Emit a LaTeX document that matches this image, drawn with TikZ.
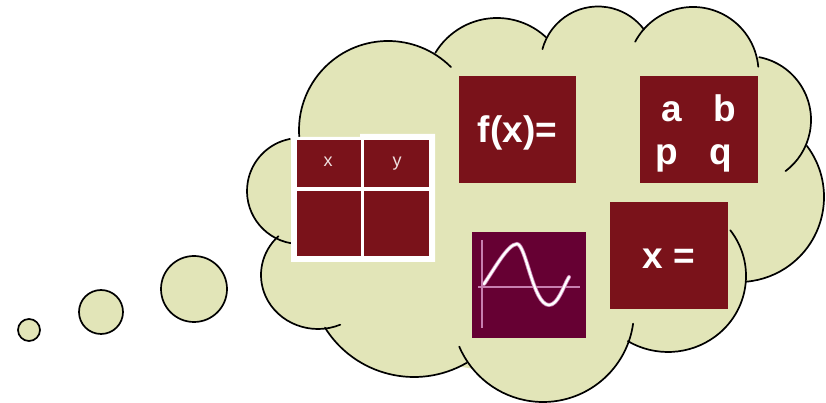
\documentclass[tikz,border=0pt]{standalone}
\usepackage{fontspec}
\setmainfont{Liberation Sans}
\definecolor{cloudfill}{HTML}{E2E5B8}
\definecolor{boxred}{HTML}{7A121A}
\definecolor{graphbg}{HTML}{660033}
\definecolor{axispink}{HTML}{C77FB0}
\definecolor{celltint}{HTML}{F0E0E0}
\tikzset{
  bubble/.style={draw=black,line width=1.7pt,fill=cloudfill},
  lobeline/.style={draw=black,line width=1.7pt,line cap=round},
  redbox/.style={fill=boxred,inner sep=0pt,outer sep=0pt},
  bigtext/.style={text=white,inner sep=0pt,anchor=base,font=\bfseries\fontsize{37}{40}\selectfont},
  celltext/.style={text=celltint,inner sep=0pt,anchor=base,font=\fontsize{18}{20}\selectfont}
}
% cx, cy (pixels from the top), rx, ry, start angle, end angle
\newcommand\lobefill[4]{\fill[cloudfill] (#1,{403-#2}) ellipse [x radius=#3pt,y radius=#4pt];}
\newcommand\lobearc[6]{\draw[lobeline] (#1,{403-#2}) ++(#5:#3pt and #4pt) arc[start angle=#5,end angle=#6,x radius=#3pt,y radius=#4pt];}
\newcommand\boxat[5]{\node[redbox,#5,minimum width=#3pt,minimum height=#4pt] at ({#1+#3/2},{403-#2-#4/2}) {};}
\begin{document}
\begin{tikzpicture}[x=1pt,y=1pt]
\useasboundingbox (0,0) rectangle (826,403);
% thought bubbles
\node[bubble,circle,inner sep=0pt,minimum size=22pt] (b1) at (29,{403-330}) {};
\node[bubble,circle,inner sep=0pt,minimum size=44pt] (b2) at (101,{403-312}) {};
\node[bubble,circle,inner sep=0pt,minimum size=66pt] (b3) at (194,{403-289}) {};
% cloud body
\fill[cloudfill] (340,{403-100}) -- (470,{403-60}) -- (600,{403-50}) -- (700,{403-60}) -- (770,{403-150}) -- (760,{403-250}) -- (640,{403-330}) -- (540,{403-380}) -- (420,{403-360}) -- (320,{403-300}) -- (290,{403-200}) -- cycle;
\lobefill{388}{130}{89}{89}
\lobefill{497}{90}{72}{72}
\lobefill{598}{64}{57.5}{57.5}
\lobefill{693}{72.5}{65.5}{65.5}
\lobefill{747}{120}{64}{64}
\lobefill{739}{197}{85}{85}
\lobefill{668}{276}{78}{76}
\lobefill{543}{311}{91}{91}
\lobefill{414}{272}{105}{105}
\lobefill{318}{275}{57}{54}
\lobefill{300}{191}{53}{53}
% cloud outline
\lobearc{388}{130}{89}{89}{45}{186}
\lobearc{497}{90}{72}{72}{149}{47}
\lobearc{598}{64}{57.5}{57.5}{165}{37}
\lobearc{693}{72.5}{65.5}{65.5}{152}{5}
\lobearc{747}{120}{64}{64}{79}{-53}
\lobearc{739}{197}{85}{85}{37}{-85}
\lobearc{668}{276}{78}{76}{37}{-121}
\lobearc{543}{311}{91}{91}{-8}{-157}
\lobearc{414}{272}{105}{105}{-60}{-148}
\lobearc{318}{275}{57}{54}{-67}{-226}
\lobearc{300}{191}{53}{53}{-100}{-259}
% table
\fill[white] (291,{403-137}) -- (360,{403-137}) -- (360,{403-134}) -- (435,{403-134}) -- (435,{403-262}) -- (291,{403-262}) -- cycle;
\boxat{297}{140}{64}{47}{name=c11}
\boxat{364}{140}{65}{47}{name=c12}
\boxat{297}{191}{64}{65}{name=c21}
\boxat{364}{191}{65}{65}{name=c22}
\node[celltext] (tx) at (328,{403-167}) {x};
\node[celltext] (ty) at (397,{403-167}) {y};
% f(x)=
\boxat{459}{76}{117}{107}{name=fbox}
\node[bigtext] (ftext) at (517.5,{403-143}) {f(x)=};
% matrix
\boxat{640}{76}{118}{107}{name=mbox}
\node[bigtext] (ma) at (672,{403-122}) {a};
\node[bigtext] (mb) at (725,{403-122}) {b};
\node[bigtext] (mp) at (667,{403-165}) {p};
\node[bigtext] (mq) at (720.5,{403-165}) {q};
% x =
\boxat{610}{202}{118}{107}{name=xbox}
\node[bigtext] (xtext) at (668.5,{403-269}) {x =};
% graph
\fill[graphbg] (472,{403-232}) rectangle (586,{403-338});
\draw[axispink,line width=2.6pt] (482,{403-240}) -- (482,{403-328});
\draw[axispink,line width=2.6pt] (478,{403-287}) -- (580,{403-287});
\draw[axispink,line width=4pt,line cap=round] (484,{403-284})
  .. controls (495,{403-268}) and (508,{403-244}) .. (517,{403-244})
  .. controls (526,{403-244}) and (533,{403-305}) .. (549,{403-305})
  .. controls (558,{403-305}) and (563,{403-287}) .. (569,{403-277});
\draw[white,line width=2.4pt,line cap=round] (484,{403-284})
  .. controls (495,{403-268}) and (508,{403-244}) .. (517,{403-244})
  .. controls (526,{403-244}) and (533,{403-305}) .. (549,{403-305})
  .. controls (558,{403-305}) and (563,{403-287}) .. (569,{403-277});
\end{tikzpicture}
\end{document}
